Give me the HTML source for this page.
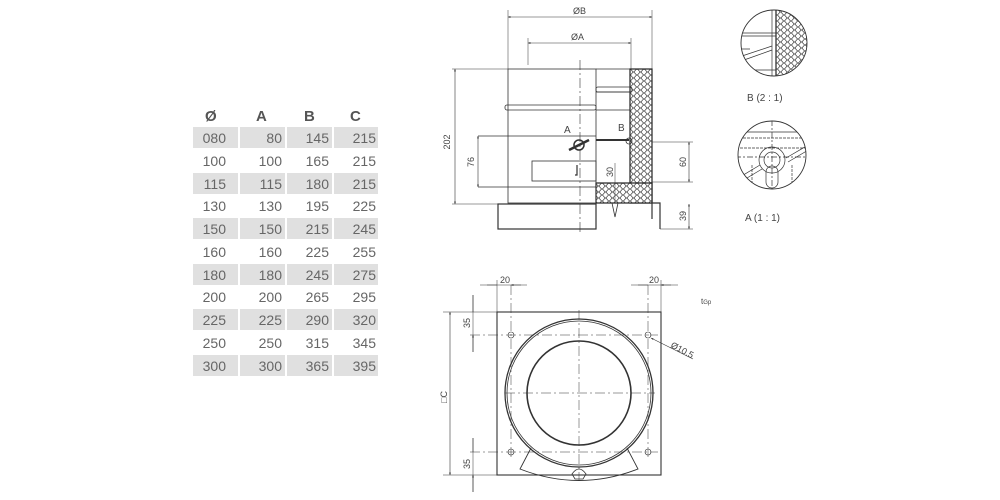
<!DOCTYPE html>
<html><head><meta charset="utf-8"><style>
html,body{margin:0;padding:0;background:#fff;width:1000px;height:500px;overflow:hidden}
svg{display:block}
</style></head><body>
<svg width="1000" height="500" viewBox="0 0 1000 500" xmlns="http://www.w3.org/2000/svg" font-family="Liberation Sans, sans-serif">
<defs>
<pattern id="hex" width="7" height="6" patternUnits="userSpaceOnUse">
<rect width="7" height="6" fill="#fff"/>
<circle cx="3.5" cy="3" r="2.6" fill="none" stroke="#444" stroke-width="0.5"/>
<circle cx="0" cy="0" r="2.6" fill="none" stroke="#444" stroke-width="0.5"/>
<circle cx="7" cy="0" r="2.6" fill="none" stroke="#444" stroke-width="0.5"/>
<circle cx="0" cy="6" r="2.6" fill="none" stroke="#444" stroke-width="0.5"/>
<circle cx="7" cy="6" r="2.6" fill="none" stroke="#444" stroke-width="0.5"/>
</pattern>
<marker id="ar" viewBox="0 0 10 10" refX="10" refY="5" markerWidth="6" markerHeight="4" orient="auto-start-reverse"><path d="M0,1 L10,5 L0,9z" fill="#333"/></marker>
<clipPath id="cB"><circle cx="774" cy="43" r="33"/></clipPath>
<clipPath id="cA"><circle cx="772" cy="155" r="34"/></clipPath>
</defs>

<!-- TABLE -->
<g font-size="14" fill="#666">
<g font-weight="bold" fill="#555" font-size="15">
<text x="205" y="121">Ø</text><text x="256" y="121">A</text><text x="304" y="121">B</text><text x="350" y="121">C</text>
</g>
<g fill="#e0e0e0">
<rect x="193" y="127" width="45" height="21"/><rect x="240" y="127" width="45" height="21"/><rect x="287" y="127" width="45" height="21"/><rect x="334" y="127" width="44" height="21"/>
<rect x="193" y="173" width="45" height="21"/><rect x="240" y="173" width="45" height="21"/><rect x="287" y="173" width="45" height="21"/><rect x="334" y="173" width="44" height="21"/>
<rect x="193" y="218" width="45" height="21"/><rect x="240" y="218" width="45" height="21"/><rect x="287" y="218" width="45" height="21"/><rect x="334" y="218" width="44" height="21"/>
<rect x="193" y="264" width="45" height="21"/><rect x="240" y="264" width="45" height="21"/><rect x="287" y="264" width="45" height="21"/><rect x="334" y="264" width="44" height="21"/>
<rect x="193" y="309" width="45" height="21"/><rect x="240" y="309" width="45" height="21"/><rect x="287" y="309" width="45" height="21"/><rect x="334" y="309" width="44" height="21"/>
<rect x="193" y="355" width="45" height="21"/><rect x="240" y="355" width="45" height="21"/><rect x="287" y="355" width="45" height="21"/><rect x="334" y="355" width="44" height="21"/>
</g>
<g text-anchor="end">
<text x="226" y="143">080</text><text x="282" y="143">80</text><text x="329" y="143">145</text><text x="376" y="143">215</text>
<text x="226" y="166">100</text><text x="282" y="166">100</text><text x="329" y="166">165</text><text x="376" y="166">215</text>
<text x="226" y="189">115</text><text x="282" y="189">115</text><text x="329" y="189">180</text><text x="376" y="189">215</text>
<text x="226" y="211">130</text><text x="282" y="211">130</text><text x="329" y="211">195</text><text x="376" y="211">225</text>
<text x="226" y="234">150</text><text x="282" y="234">150</text><text x="329" y="234">215</text><text x="376" y="234">245</text>
<text x="226" y="257">160</text><text x="282" y="257">160</text><text x="329" y="257">225</text><text x="376" y="257">255</text>
<text x="226" y="280">180</text><text x="282" y="280">180</text><text x="329" y="280">245</text><text x="376" y="280">275</text>
<text x="226" y="302">200</text><text x="282" y="302">200</text><text x="329" y="302">265</text><text x="376" y="302">295</text>
<text x="226" y="325">225</text><text x="282" y="325">225</text><text x="329" y="325">290</text><text x="376" y="325">320</text>
<text x="226" y="348">250</text><text x="282" y="348">250</text><text x="329" y="348">315</text><text x="376" y="348">345</text>
<text x="226" y="371">300</text><text x="282" y="371">300</text><text x="329" y="371">365</text><text x="376" y="371">395</text>
</g>
</g>

<!-- SIDE VIEW -->
<g stroke="#333" fill="none" stroke-width="0.8">
<rect x="630" y="69" width="22" height="134" fill="url(#hex)" stroke="#222" stroke-width="1.2"/>
<rect x="596" y="183" width="56" height="20" fill="url(#hex)" stroke="#222" stroke-width="1.2"/>
<rect x="508" y="69" width="88" height="134"/>
<line x1="596" y1="69" x2="630" y2="69"/>
<rect x="505" y="105" width="91" height="5" rx="2"/>
<rect x="596" y="87" width="36" height="5" rx="2"/>
<line x1="596" y1="110" x2="630" y2="110"/>
<line x1="596" y1="92" x2="630" y2="92"/>
<line x1="478" y1="136" x2="596" y2="136"/>
<line x1="478" y1="187" x2="596" y2="187"/>
<rect x="532" y="161" width="64" height="20"/>
<line x1="596" y1="140" x2="629" y2="140" stroke-width="2"/>
<circle cx="629" cy="141" r="3"/>
<circle cx="579" cy="145" r="5" stroke-width="1.5"/>
<path d="M569,150 L589,140" stroke-width="2.5"/>
<path d="M577,165 v10 h-2" stroke-width="1.2"/>
<rect x="498" y="204" width="98" height="25" stroke-width="1.2"/>
<path d="M652,203 v16 M652,203 h8 v26" stroke-width="1.2"/>
<path d="M612,203 l3,14 l3,-14"/>
<line x1="580" y1="60" x2="580" y2="235" stroke-dasharray="10,3,2,3" stroke-width="0.6"/>
<line x1="508" y1="10" x2="508" y2="69" stroke-width="0.5"/>
<line x1="652" y1="10" x2="652" y2="69" stroke-width="0.5"/>
<line x1="528" y1="38" x2="528" y2="65" stroke-width="0.5"/>
<line x1="631" y1="38" x2="631" y2="69" stroke-width="0.5"/>
<line x1="508" y1="17" x2="652" y2="17" stroke-width="0.6" marker-start="url(#ar)" marker-end="url(#ar)"/>
<line x1="528" y1="43" x2="631" y2="43" stroke-width="0.6" marker-start="url(#ar)" marker-end="url(#ar)"/>
<line x1="452" y1="69" x2="508" y2="69" stroke-width="0.5"/>
<line x1="452" y1="204" x2="498" y2="204" stroke-width="0.5"/>
<line x1="455" y1="69" x2="455" y2="204" stroke-width="0.6" marker-start="url(#ar)" marker-end="url(#ar)"/>
<line x1="478" y1="136" x2="478" y2="187" stroke-width="0.6" marker-start="url(#ar)" marker-end="url(#ar)"/>
<line x1="652" y1="142" x2="693" y2="142" stroke-width="0.5"/>
<line x1="652" y1="182" x2="693" y2="182" stroke-width="0.5"/>
<line x1="689" y1="142" x2="689" y2="182" stroke-width="0.6" marker-start="url(#ar)" marker-end="url(#ar)"/>
<line x1="660" y1="229" x2="693" y2="229" stroke-width="0.5"/>
<line x1="689" y1="204" x2="689" y2="229" stroke-width="0.6" marker-start="url(#ar)" marker-end="url(#ar)"/>
<line x1="615" y1="163" x2="615" y2="203" stroke-width="0.5"/>
</g>
<g font-size="9" fill="#444">
<text x="573" y="14">ØB</text>
<text x="571" y="40">ØA</text>
<text x="450" y="142" transform="rotate(-90 450 142)" text-anchor="middle">202</text>
<text x="474" y="162" transform="rotate(-90 474 162)" text-anchor="middle">76</text>
<text x="686" y="162" transform="rotate(-90 686 162)" text-anchor="middle">60</text>
<text x="686" y="216" transform="rotate(-90 686 216)" text-anchor="middle">39</text>
<text x="613" y="172" transform="rotate(-90 613 172)" text-anchor="middle">30</text>
<text x="564" y="133" font-size="10">A</text>
<text x="618" y="131" font-size="10">B</text>
</g>

<!-- DETAIL B -->
<g stroke="#333" fill="none" stroke-width="0.7">
<g clip-path="url(#cB)">
<rect x="776" y="8" width="34" height="72" fill="url(#hex)"/>
<line x1="776" y1="8" x2="776" y2="80" stroke-width="1.3"/>
<line x1="772" y1="8" x2="772" y2="80"/>
<line x1="740" y1="33" x2="776" y2="33"/>
<line x1="740" y1="36" x2="776" y2="36"/>
<line x1="740" y1="70" x2="776" y2="70"/>
<path d="M742,56 L772,46 M744,60 L772,50"/>
<line x1="740" y1="49" x2="750" y2="49"/>
</g>
<circle cx="774" cy="43" r="33" stroke-width="0.9"/>
</g>
<text x="747" y="101" font-size="10" fill="#444">B (2 : 1)</text>

<!-- DETAIL A -->
<g stroke="#333" fill="none" stroke-width="0.7">
<g clip-path="url(#cA)">
<rect x="735" y="138" width="75" height="10" stroke-dasharray="3,1"/>
<line x1="735" y1="132" x2="810" y2="132"/>
<line x1="772" y1="120" x2="772" y2="190" stroke-dasharray="6,2,2,2"/>
<line x1="735" y1="157" x2="810" y2="157" stroke-dasharray="6,2,2,2"/>
<path d="M735,180 L760,165 M737,184 L762,169 M786,158 L810,144 M788,162 L810,149"/>
<circle cx="772" cy="160" r="13"/><circle cx="772" cy="160" r="8"/>
<rect x="766" y="166" width="12" height="22" rx="6"/>
<path d="M752,165 v25 M792,165 v25" stroke-dasharray="3,1"/>
</g>
<circle cx="772" cy="155" r="34" stroke-width="0.9"/>
</g>
<text x="745" y="221" font-size="10" fill="#444">A (1 : 1)</text>

<!-- BOTTOM VIEW -->
<g stroke="#333" fill="none" stroke-width="0.8">
<rect x="497" y="312" width="164" height="163" stroke-width="1.1"/>
<circle cx="579" cy="393" r="74" stroke-width="1.3"/>
<circle cx="579" cy="393" r="72" stroke-width="0.8"/>
<circle cx="579" cy="393" r="52" stroke-width="1.6"/>
<path d="M531,448 L520,469 Q579,492 638,469 L627,448" stroke-width="0.9"/>
<path d="M572,474 q7,-10 14,0 l-3,5 h-8z"/>
<g stroke-width="0.6">
<circle cx="511" cy="335" r="3"/><circle cx="648" cy="335" r="3"/>
<circle cx="511" cy="452" r="3"/><circle cx="648" cy="452" r="3"/>
</g>
<g stroke-dasharray="10,3,2,3" stroke-width="0.5">
<line x1="579" y1="310" x2="579" y2="480"/>
<line x1="505" y1="393" x2="655" y2="393"/>
<line x1="470" y1="335" x2="658" y2="335"/>
<line x1="470" y1="452" x2="658" y2="452"/>
<line x1="511" y1="285" x2="511" y2="460"/>
<line x1="648" y1="285" x2="648" y2="460"/>
</g>
<line x1="497" y1="280" x2="497" y2="312" stroke-width="0.5"/>
<line x1="661" y1="280" x2="661" y2="312" stroke-width="0.5"/>
<line x1="480" y1="285" x2="527" y2="285" stroke-width="0.5"/>
<line x1="631" y1="285" x2="678" y2="285" stroke-width="0.5"/>
<path d="M487,285 h10 M521,285 h-10" marker-end="url(#ar)" stroke-width="0.6"/>
<path d="M638,285 h10 M671,285 h-10" marker-end="url(#ar)" stroke-width="0.6"/>
<line x1="443" y1="312" x2="497" y2="312" stroke-width="0.5"/>
<line x1="443" y1="475" x2="497" y2="475" stroke-width="0.5"/>
<line x1="450" y1="312" x2="450" y2="475" stroke-width="0.6" marker-start="url(#ar)" marker-end="url(#ar)"/>
<path d="M473,295 v17 M473,352 v-17" marker-end="url(#ar)" stroke-width="0.6"/>
<path d="M473,438 v14 M473,492 v-17" marker-end="url(#ar)" stroke-width="0.6"/>
<line x1="473" y1="295" x2="473" y2="352" stroke-width="0.5"/>
<line x1="473" y1="438" x2="473" y2="492" stroke-width="0.5"/>
<path d="M693,359 L651,338" stroke-width="0.6" marker-end="url(#ar)"/>
</g>
<g font-size="9" fill="#444">
<text x="500" y="283">20</text>
<text x="649" y="283">20</text>
<text x="470" y="323" transform="rotate(-90 470 323)" text-anchor="middle">35</text>
<text x="470" y="464" transform="rotate(-90 470 464)" text-anchor="middle">35</text>
<text x="447" y="397" transform="rotate(-90 447 397)" text-anchor="middle">□C</text>
<text x="670" y="347" transform="rotate(28 670 347)">Ø10.5</text>
<text x="701" y="304" font-size="8">t<tspan font-size="6">Gp</tspan></text>
</g>
</svg>
</body></html>
